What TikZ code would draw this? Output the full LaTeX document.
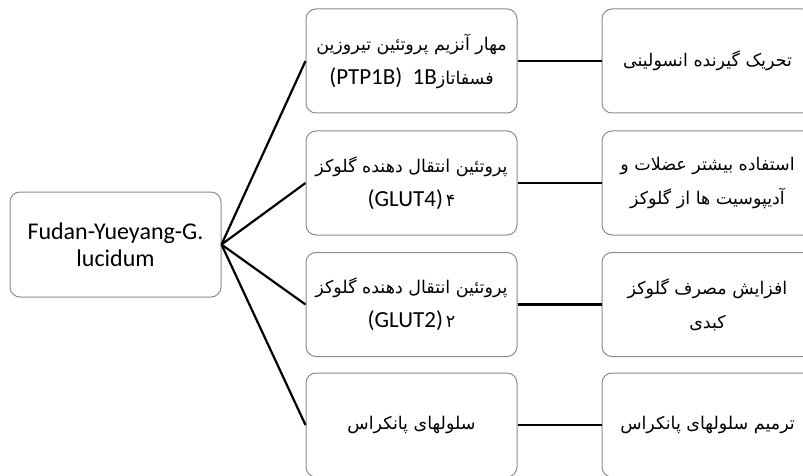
\documentclass[tikz,border=0pt]{standalone}
\usepackage{fontspec}
\setmainfont{Carlito}
\newfontfamily\fafont[Script=Arabic]{DejaVu Sans}
\TeXXeTstate=1
\newcommand{\fatxt}[1]{{\fafont\beginR #1\endR}}
\definecolor{boxgray}{HTML}{8C8C8C}
\begin{document}
\begin{tikzpicture}[x=1pt,y=-1pt,
  box/.style={draw=boxgray, line width=1pt, rounded corners=10pt,
    minimum width=211pt, minimum height=104pt, align=center, inner sep=0pt,
    font=\fontsize{17.5}{34}\selectfont},
  lat/.style={},
  link/.style={line width=2.6pt, line cap=butt},
  fan/.style={line width=2.2pt}]
\useasboundingbox (0,0) rectangle (803,476);
\clip (0,0) rectangle (803,476);
\fill[white] (0,0) rectangle (803,476);
% source
\node[box, minimum height=105pt, font=\fontsize{24}{27}\selectfont] (src) at (115.5,244.5) {Fudan-Yueyang-G.\\lucidum};
% middle column
\node[box] (m1) at (411.5,61) {\fatxt{مهار آنزیم پروتئین تیروزین}\\{\fontsize{23}{34}\selectfont (PTP1B)\ \ 1B}\fatxt{فسفاتاز}};
\node[box] (m2) at (411.5,183) {\fatxt{پروتئین انتقال دهنده گلوکز}\\{\fontsize{23}{34}\selectfont (GLUT4)}\,\fatxt{۴}};
\node[box] (m3) at (411.5,304.5) {\fatxt{پروتئین انتقال دهنده گلوکز}\\{\fontsize{23}{34}\selectfont (GLUT2)}\,\fatxt{۲}};
\node[box] (m4) at (411.5,425) {\fatxt{سلولهای پانکراس}};
% right column
\node[box] (r1) at (707.5,61) {\fatxt{تحریک گیرنده انسولینی}};
\node[box] (r2) at (707.5,183) {\fatxt{استفاده بیشتر عضلات و}\\\fatxt{آدیپوسیت ها از گلوکز}};
\node[box] (r3) at (707.5,304.5) {\fatxt{افزایش مصرف گلوکز}\\\fatxt{کبدی}};
\node[box] (r4) at (707.5,425) {\fatxt{ترمیم سلولهای پانکراس}};
% connectors
\foreach \m in {m1,m2,m3,m4} \draw[fan] (src.east) -- (\m.west);
\foreach \i in {1,2,3,4} \draw[link] (m\i.east) -- (r\i.west);
\end{tikzpicture}
\end{document}
